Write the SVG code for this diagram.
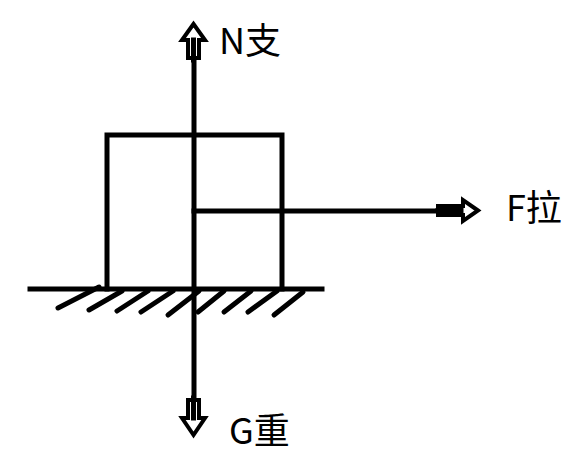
<svg xmlns="http://www.w3.org/2000/svg" width="566" height="455" viewBox="0 0 566 455">
<style>
.ln{stroke:#000;stroke-width:5;fill:none;stroke-linecap:square}
.ht{stroke:#000;stroke-width:5;fill:none;stroke-linecap:round}
.ah{stroke:#000;stroke-width:4;fill:#fff;stroke-linejoin:miter}
.lb{font-family:"Noto Sans CJK SC","Noto Sans",sans-serif;font-size:36px;fill:#000}
</style>
<rect width="566" height="455" fill="#fff"/>
<g id="ground">
<line class="ln" x1="30" y1="289" x2="322" y2="289"/>
<g class="ht">
<line x1="58" y1="308" x2="99" y2="287"/>
<line x1="89" y1="310" x2="122" y2="291"/>
<line x1="117" y1="311" x2="148" y2="291"/>
<line x1="141" y1="312" x2="173" y2="291"/>
<line x1="168" y1="315" x2="199" y2="291"/>
<line x1="198" y1="312" x2="224" y2="291"/>
<line x1="224" y1="312" x2="251" y2="291"/>
<line x1="248" y1="312" x2="277" y2="291"/>
<line x1="274" y1="315" x2="303" y2="292"/>
</g>
</g>
<g id="block">
<polyline class="ln" points="107,289 107,135 282,135 282,289"/>
</g>
<g id="connectors">
<line class="ln" x1="194" y1="45" x2="194" y2="412"/>
<line class="ln" x1="194" y1="211" x2="445" y2="211"/>
<polygon class="ah" points="193.5,24 182,40 188,40 188,58 199,58 199,40 205,40"/>
<line class="ln" x1="193.5" y1="40" x2="193.5" y2="60"/>
<polygon class="ah" points="193.5,435 182,418 188,418 188,400 199,400 199,418 205,418"/>
<line class="ln" x1="193.5" y1="398" x2="193.5" y2="418"/>
<polygon class="ah" points="478,210.5 463,200 463,206 438,206 438,215 463,215 463,221"/>
<line class="ln" x1="438" y1="210.5" x2="461" y2="210.5"/>
</g>
<g id="N"><text class="lb" x="219" y="54">N支</text></g>
<g id="F"><text class="lb" x="506" y="221">F拉</text></g>
<g id="G"><text class="lb" x="229" y="444">G重</text></g>
</svg>
